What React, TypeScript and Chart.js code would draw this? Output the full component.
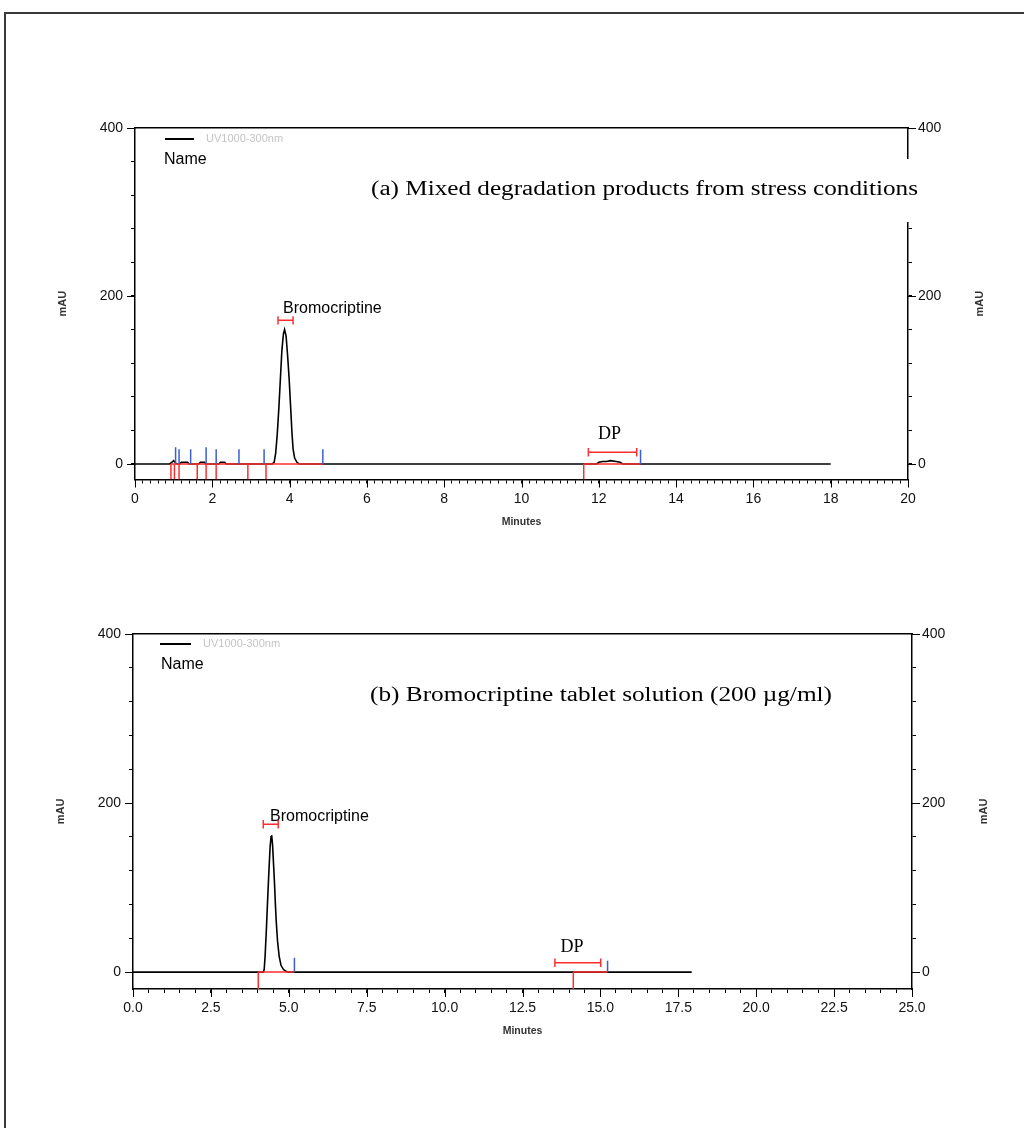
import React, { useEffect, useRef } from 'react';
import { Chart, registerables } from 'chart.js';

Chart.register(...registerables);

// ---------------- Panel (a) data ----------------
const A_TIME = [0, 0.9, 0.95, 1.0, 1.05, 1.1, 1.15, 1.2, 1.36, 1.4, 1.65, 1.69, 1.8, 1.83, 2.17, 2.21, 2.32, 2.36, 3.55, 3.6, 3.64, 3.68, 3.72, 3.76, 3.8, 3.84, 3.87, 3.91, 3.95, 3.99, 4.03, 4.06, 4.09, 4.13, 4.19, 4.25, 11.95, 12.0, 12.1, 12.2, 12.3, 12.45, 12.55, 12.62, 18.0];
const A_MAU = [0, 0, 2, 4, 1, 0, 0, 2, 2, 0, 0, 2, 2, 0, 0, 2, 2, 0, 0, 2, 13, 35, 65, 100, 135, 155, 160, 152, 128, 100, 65, 38, 18, 7, 2, 0, 0, 2, 3, 3, 4, 3, 2, 0, 0];
const A_BLUE_TIME = [1.05, 1.14, 1.44, 1.84, 2.1, 2.69, 3.34, 4.86, 13.08];
const A_BLUE_MAU = [20, 17.5, 17.5, 20, 17.5, 17.5, 17.5, 17.5, 17];
const A_DROP_TIME = [0.93, 1.02, 1.14, 1.61, 1.84, 2.1, 2.92, 3.39, 11.61];
const A_BASE_START = [0.93, 11.61];
const A_BASE_END = [4.86, 13.08];
const A_PEAKS = ['Bromocriptine', 'DP'];
const A_BRACKET_START = [3.7, 11.73];
const A_BRACKET_END = [4.09, 12.98];
const A_BRACKET_MAU = [171, 14];
const A_LABEL_TIME = [3.83, 12.28];
const A_LABEL_MAU = [180, 30];
const A_X_LABELS = ['0', '2', '4', '6', '8', '10', '12', '14', '16', '18', '20'];
const A_Y_LABELS = ['0', '200', '400'];
const A_TITLE = '(a) Mixed degradation products from stress conditions';

// ---------------- Panel (b) data ----------------
const B_TIME = [0, 4.18, 4.21, 4.24, 4.28, 4.32, 4.36, 4.4, 4.43, 4.45, 4.48, 4.51, 4.54, 4.57, 4.6, 4.64, 4.69, 4.75, 4.83, 4.91, 4.97, 17.93];
const B_MAU = [0, 0, 3, 19, 50, 85, 118, 148, 160, 162, 150, 128, 106, 80, 58, 36, 19, 8, 3, 1, 0, 0];
const B_BLUE_TIME = [5.18, 15.23];
const B_BLUE_MAU = [17, 13.5];
const B_DROP_TIME = [4.02, 14.13];
const B_BASE_START = [4.02, 14.13];
const B_BASE_END = [5.18, 15.23];
const B_PEAKS = ['Bromocriptine', 'DP'];
const B_BRACKET_START = [4.18, 13.54];
const B_BRACKET_END = [4.66, 15.01];
const B_BRACKET_MAU = [175, 11];
const B_LABEL_TIME = [4.4, 14.09];
const B_LABEL_MAU = [179, 24];
const B_X_LABELS = ['0.0', '2.5', '5.0', '7.5', '10.0', '12.5', '15.0', '17.5', '20.0', '22.5', '25.0'];
const B_Y_LABELS = ['0', '200', '400'];
const B_TITLE = '(b) Bromocriptine tablet solution (200 µg/ml)';

const LEGEND_LABEL = 'UV1000-300nm';
const LEGEND_NAME = 'Name';
const X_TITLE = 'Minutes';
const Y_TITLE = 'mAU';

// ---------------- styles ----------------
const RED = '#ff2e2e';
const BLUE = '#3c5fd0';
const SANS = "'Liberation Sans', Arial, sans-serif";
const SERIF = "'Liberation Serif', 'Times New Roman', serif";

type Spec = {
  time: number[]; mau: number[];
  blueT: number[]; blueM: number[];
  dropT: number[];
  baseS: number[]; baseE: number[];
  peaks: string[];
  brS: number[]; brE: number[]; brM: number[];
  lbT: number[]; lbM: number[];
  xLabels: string[]; yLabels: string[];
  title: string;
  xMax: number; xStep: number; yMin: number; yMax: number; yStep: number;
  canvasTop: number; canvasH: number; padTop: number;
  leftW: number; rightW: number; bottomH: number;
  legLineX0: number; legLineX1: number; legY: number; legTextX: number;
  nameX: number; nameY: number;
  titleDx: number; titleW: number; titleDy: number;
};

const SPEC_A: Spec = {
  time: A_TIME, mau: A_MAU, blueT: A_BLUE_TIME, blueM: A_BLUE_MAU, dropT: A_DROP_TIME,
  baseS: A_BASE_START, baseE: A_BASE_END, peaks: A_PEAKS,
  brS: A_BRACKET_START, brE: A_BRACKET_END, brM: A_BRACKET_MAU,
  lbT: A_LABEL_TIME, lbM: A_LABEL_MAU, xLabels: A_X_LABELS, yLabels: A_Y_LABELS, title: A_TITLE,
  xMax: 20, xStep: 0.2, yMin: -18.5, yMax: 400, yStep: 20,
  canvasTop: 100, canvasH: 440, padTop: 28, leftW: 135, rightW: 116, bottomH: 60.5,
  legLineX0: 30, legLineX1: 59, legY: 11, legTextX: 71, nameX: 29, nameY: 36,
  titleDx: 236, titleW: 547, titleDy: 67,
};

const SPEC_B: Spec = {
  time: B_TIME, mau: B_MAU, blueT: B_BLUE_TIME, blueM: B_BLUE_MAU, dropT: B_DROP_TIME,
  baseS: B_BASE_START, baseE: B_BASE_END, peaks: B_PEAKS,
  brS: B_BRACKET_START, brE: B_BRACKET_END, brM: B_BRACKET_MAU,
  lbT: B_LABEL_TIME, lbM: B_LABEL_MAU, xLabels: B_X_LABELS, yLabels: B_Y_LABELS, title: B_TITLE,
  xMax: 25, xStep: 0.5, yMin: -20, yMax: 400, yStep: 20,
  canvasTop: 600, canvasH: 450, padTop: 34, leftW: 133, rightW: 112, bottomH: 61,
  legLineX0: 27, legLineX1: 58, legY: 10, legTextX: 70, nameX: 28, nameY: 34.5,
  titleDx: 237, titleW: 462, titleDy: 67,
};

const near = (a: number, b: number) => Math.abs(a - b) < 1e-6;

function overlay(p: Spec) {
  return {
    id: 'overlay',
    afterDraw(chart: any) {
      const ctx: CanvasRenderingContext2D = chart.ctx;
      const { left, right, top, bottom } = chart.chartArea;
      const xs = chart.scales.x;
      const ys = chart.scales.y;
      ctx.save();
      // longer ticks for labelled values
      ctx.strokeStyle = '#000';
      ctx.lineWidth = 1;
      ctx.beginPath();
      p.xLabels.forEach((l) => {
        const px = Math.round(xs.getPixelForValue(Number(l))) + 0.5;
        ctx.moveTo(px, bottom); ctx.lineTo(px, bottom + 8);
      });
      p.yLabels.forEach((l) => {
        const py = Math.round(ys.getPixelForValue(Number(l))) + 0.5;
        ctx.moveTo(left - 8, py); ctx.lineTo(left, py);
        ctx.moveTo(right, py); ctx.lineTo(right + 8, py);
      });
      ctx.stroke();

      // title with white box
      ctx.fillStyle = '#fff';
      ctx.fillRect(left + p.titleDx - 4, top + 31, p.titleW + 10, 63);
      ctx.font = `20px ${SERIF}`;
      const w = ctx.measureText(p.title).width;
      ctx.save();
      ctx.translate(left + p.titleDx, top + p.titleDy);
      ctx.scale(p.titleW / w, 1);
      ctx.fillStyle = '#000';
      ctx.textAlign = 'left';
      ctx.textBaseline = 'alphabetic';
      ctx.fillText(p.title, 0, 0);
      ctx.restore();

      // legend
      ctx.strokeStyle = '#000';
      ctx.lineWidth = 2;
      ctx.beginPath();
      ctx.moveTo(left + p.legLineX0, top + p.legY);
      ctx.lineTo(left + p.legLineX1, top + p.legY);
      ctx.stroke();
      ctx.fillStyle = '#c4c4c4';
      ctx.font = `11px ${SANS}`;
      ctx.textAlign = 'left';
      ctx.textBaseline = 'middle';
      ctx.fillText(LEGEND_LABEL, left + p.legTextX, top + p.legY);
      ctx.fillStyle = '#000';
      ctx.font = `16px ${SANS}`;
      ctx.textBaseline = 'alphabetic';
      ctx.fillText(LEGEND_NAME, left + p.nameX, top + p.nameY);

      // peak names
      p.peaks.forEach((name, i) => {
        const px = xs.getPixelForValue(p.lbT[i]);
        const py = ys.getPixelForValue(p.lbM[i]);
        ctx.fillStyle = '#000';
        ctx.textBaseline = 'alphabetic';
        if (i === 0) {
          ctx.font = `16px ${SANS}`;
          ctx.textAlign = 'left';
        } else {
          ctx.font = `18px ${SERIF}`;
          ctx.textAlign = 'center';
        }
        ctx.fillText(name, px, py);
      });

      // axis titles
      ctx.fillStyle = '#333';
      ctx.font = `bold 11px ${SANS}`;
      ctx.textAlign = 'center';
      ctx.textBaseline = 'middle';
      const cy = (top + bottom) / 2;
      [left - 72, right + 72].forEach((cx) => {
        ctx.save();
        ctx.translate(cx, cy);
        ctx.rotate(-Math.PI / 2);
        ctx.fillText(Y_TITLE, 0, 0);
        ctx.restore();
      });
      ctx.font = `bold 10.5px ${SANS}`;
      ctx.fillText(X_TITLE, (left + right) / 2, bottom + 42.5);
      ctx.restore();
    },
  };
}

function buildChart(canvas: HTMLCanvasElement, p: Spec) {
  const trace = p.time.map((x, i) => ({ x, y: p.mau[i] }));
  const blue = p.blueT.flatMap((x, i) => [{ x, y: 0 }, { x, y: p.blueM[i] }, { x, y: null }]);
  const drops = p.dropT.flatMap((x) => [{ x, y: 0 }, { x, y: p.yMin }, { x, y: null }]);
  const base = p.baseS.flatMap((s, i) => [{ x: s, y: 0 }, { x: p.baseE[i], y: 0 }, { x: p.baseE[i], y: null }]);
  const cap = 5;
  const brackets = p.brS.flatMap((s, i) => {
    const e = p.brE[i];
    const m = p.brM[i];
    return [
      { x: s, y: m - cap }, { x: s, y: m + cap }, { x: s, y: null },
      { x: s, y: m }, { x: e, y: m }, { x: e, y: null },
      { x: e, y: m - cap }, { x: e, y: m + cap }, { x: e, y: null },
    ];
  });

  const xTicks: number[] = [];
  const nX = Math.round(p.xMax / p.xStep);
  for (let i = 0; i <= nX; i++) xTicks.push(Math.round(i * p.xStep * 1000) / 1000);
  const yTicks: number[] = [];
  for (let v = 0; v <= p.yMax; v += p.yStep) yTicks.push(v);

  const xLabel = (v: number) => {
    const l = p.xLabels.find((s) => near(Number(s), v));
    return l === undefined ? '' : l;
  };
  const yLabel = (v: number) => {
    const l = p.yLabels.find((s) => near(Number(s), v));
    return l === undefined ? '' : l;
  };

  const grid = { drawOnChartArea: false, drawTicks: true, tickLength: 4, color: '#000', lineWidth: 1 };
  const border = { display: true, color: '#000', width: 1.5 };
  const tickFont = { family: SANS, size: 14 };

  const ds = (data: any[], color: string, width: number, order: number) => ({
    data, borderColor: color, borderWidth: width, pointRadius: 0, pointHoverRadius: 0,
    fill: false, tension: 0, order, xAxisID: 'x', yAxisID: 'y',
  });

  return new Chart(canvas, {
    type: 'line',
    data: {
      datasets: [
        ds(brackets, RED, 1.5, 1),
        ds(blue, BLUE, 1.5, 2),
        ds(drops, RED, 1.5, 3),
        ds(base, RED, 1.5, 4),
        ds(trace, '#000', 1.6, 10),
      ] as any,
    },
    plugins: [overlay(p)],
    options: {
      responsive: false,
      animation: false,
      devicePixelRatio: 1,
      events: [],
      layout: { padding: { top: p.padTop, left: 0, right: 0, bottom: 0 } },
      plugins: { legend: { display: false }, tooltip: { enabled: false }, title: { display: false } },
      scales: {
        x: {
          type: 'linear', position: 'bottom', min: 0, max: p.xMax,
          afterBuildTicks: (s: any) => { s.ticks = xTicks.map((value) => ({ value })); },
          afterFit: (s: any) => { s.height = p.bottomH; },
          ticks: { autoSkip: false, maxRotation: 0, minRotation: 0, padding: 7, color: '#111', font: tickFont, callback: (v: any) => xLabel(Number(v)) },
          grid, border,
        },
        xTop: {
          type: 'linear', position: 'top', min: 0, max: p.xMax,
          afterFit: (s: any) => { s.height = 0; },
          ticks: { display: false },
          grid: { display: false, drawTicks: false },
          border,
        },
        y: {
          type: 'linear', position: 'left', min: p.yMin, max: p.yMax,
          afterBuildTicks: (s: any) => { s.ticks = yTicks.map((value) => ({ value })); },
          afterFit: (s: any) => { s.width = p.leftW; },
          ticks: { padding: 8, color: '#111', font: tickFont, callback: (v: any) => yLabel(Number(v)) },
          grid, border,
        },
        y2: {
          type: 'linear', position: 'right', min: p.yMin, max: p.yMax,
          afterBuildTicks: (s: any) => { s.ticks = yTicks.map((value) => ({ value })); },
          afterFit: (s: any) => { s.width = p.rightW; },
          ticks: { padding: 6, color: '#111', font: tickFont, callback: (v: any) => yLabel(Number(v)) },
          grid, border,
        },
      },
    } as any,
  });
}

function Panel({ spec }: { spec: Spec }) {
  const ref = useRef<HTMLCanvasElement>(null);
  useEffect(() => {
    const chart = buildChart(ref.current as HTMLCanvasElement, spec);
    return () => chart.destroy();
  }, [spec]);
  return (
    <canvas
      ref={ref}
      width={1024}
      height={spec.canvasH}
      style={{ position: 'absolute', left: 0, top: spec.canvasTop, width: 1024, height: spec.canvasH, display: 'block' }}
    />
  );
}

export default function App() {
  return (
    <div style={{ position: 'absolute', left: 0, top: 0, width: 1024, height: 1128, overflow: 'hidden', background: '#fff' }}>
      <div style={{ position: 'absolute', left: 4, top: 12, width: 1060, height: 1160, border: '2px solid #3a3a3a', boxSizing: 'border-box' }} />
      <Panel spec={SPEC_A} />
      <Panel spec={SPEC_B} />
    </div>
  );
}
